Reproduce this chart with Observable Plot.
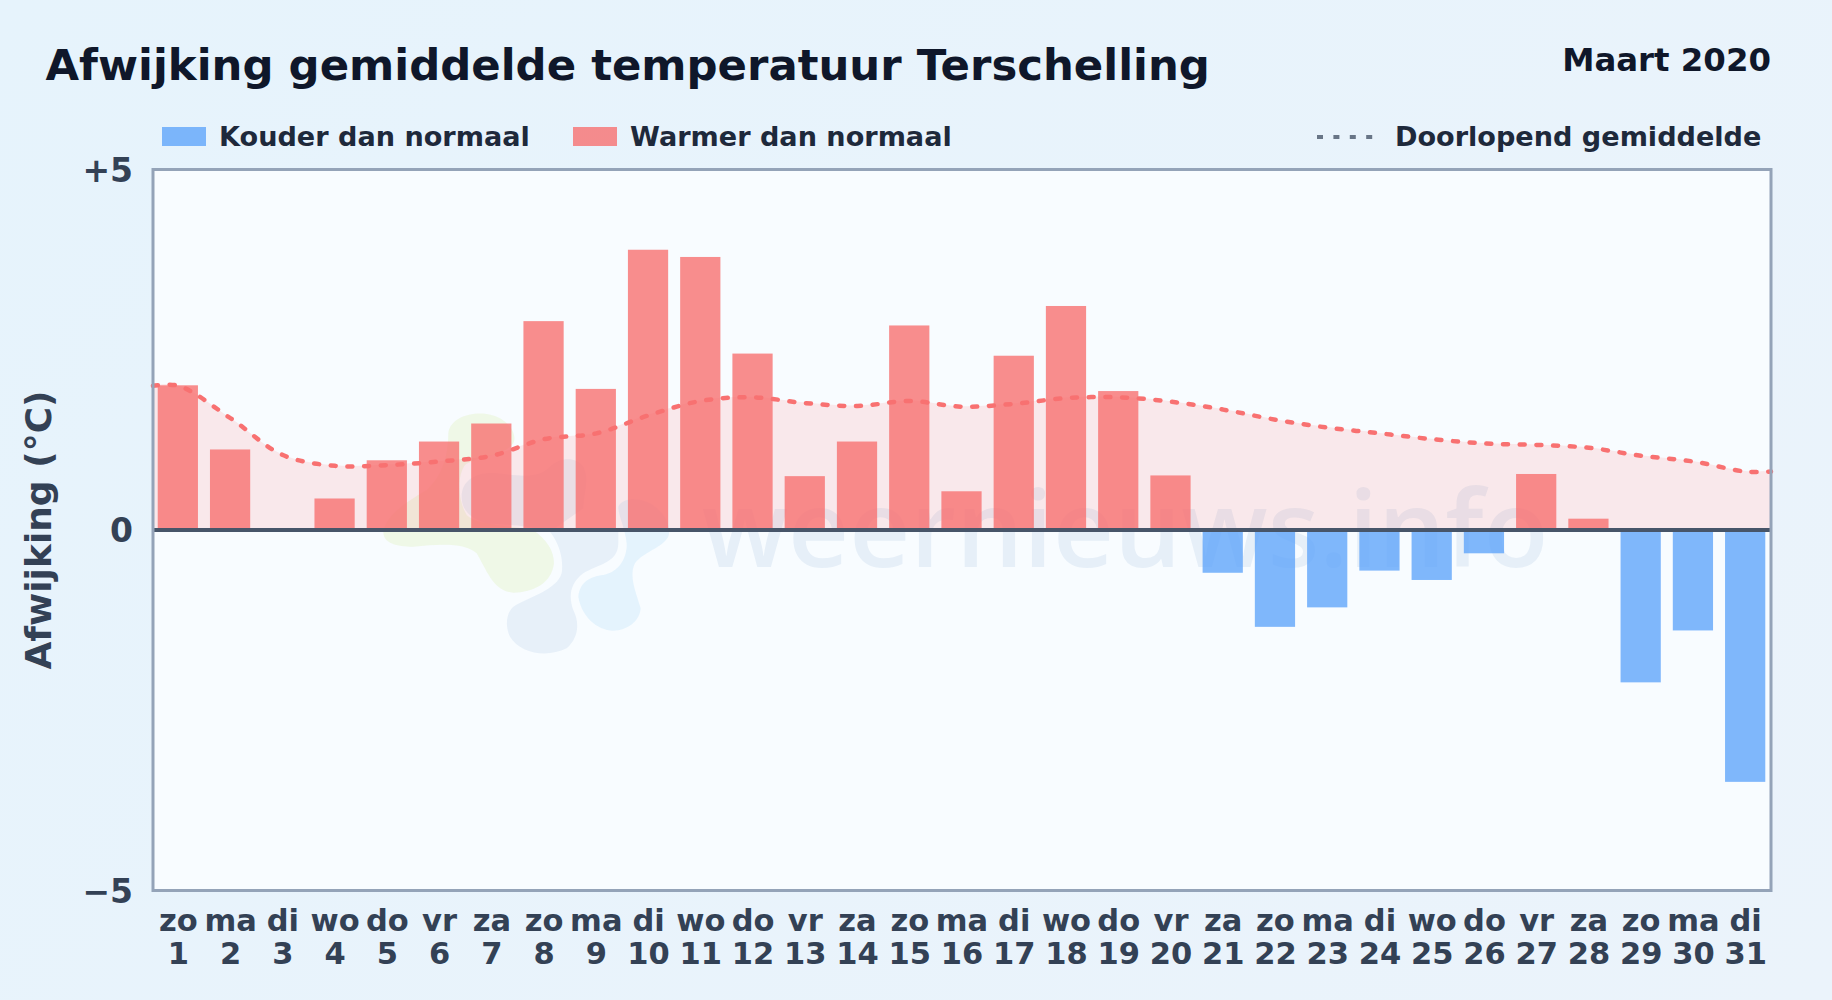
<!DOCTYPE html>
<html><head><meta charset="utf-8">
<script src="https://cdn.jsdelivr.net/npm/d3@7"></script>
<script src="https://cdn.jsdelivr.net/npm/@observablehq/plot@0.6"></script>
<style>
html,body{margin:0;padding:0;width:1832px;height:1000px;overflow:hidden;background:linear-gradient(135deg,#e6f3fc,#ebf3fb);font-family:"DejaVu Sans";font-weight:700}
#header{position:relative;height:150px;width:1832px}
#header>*{position:absolute;white-space:nowrap;line-height:1}
#title{left:45.5px;top:44px;font-size:43.4px;color:#0f172a}
#period{right:61px;top:43.5px;font-size:32.4px;color:#0f172a}
.lg{top:123px;font-size:27.1px;color:#1e293b}
.sw{top:127px;width:44px;height:19px}
#chart svg{display:block}
</style></head><body>
<div id="header">
<div id="title">Afwijking gemiddelde temperatuur Terschelling</div>
<div id="period">Maart 2020</div>
<div class="sw" style="left:162px;background:#60a5fa;opacity:.8"></div>
<div class="lg" style="left:219px">Kouder dan normaal</div>
<div class="sw" style="left:573px;background:#f87171;opacity:.8"></div>
<div class="lg" style="left:630px">Warmer dan normaal</div>
<svg style="left:1316px;top:130px" width="60" height="14"><line x1="1" x2="58" y1="7" y2="7" stroke="#475569" stroke-opacity=".8" stroke-width="4" stroke-dasharray="6 10.4"/></svg>
<div class="lg" style="left:1395px">Doorlopend gemiddelde</div>
</div>
<div id="chart"></div>
<script>
const days = d3.range(1, 32);
const weekdays = ["zo","ma","di","wo","do","vr","za","zo","ma","di","wo","do","vr","za","zo","ma","di","wo","do","vr","za","zo","ma","di","wo","do","vr","za","zo","ma","di"];
const deviation = [2.0,1.11,0,0.43,0.96,1.22,1.47,2.89,1.95,3.88,3.78,2.44,0.74,1.22,2.83,0.53,2.41,3.10,1.92,0.75,-0.60,-1.35,-1.08,-0.57,-0.70,-0.33,0.77,0.15,-2.12,-1.40,-3.50];
const runningDays = [0.515,...days,31.485];
const runningMean = [2.0,2.0,1.55,1.04,0.89,0.90,0.95,1.03,1.26,1.34,1.59,1.79,1.84,1.76,1.72,1.79,1.71,1.75,1.83,1.84,1.78,1.67,1.53,1.42,1.34,1.26,1.20,1.18,1.14,1.03,0.95,0.81,0.81];
const yTicks = [-5,0,5];
const yTickLabels = ["−5","0","+5"];
const bars = days.map((d,i)=>({day:d,v:deviation[i]}));
const mean = runningDays.map((d,i)=>({day:d,v:runningMean[i]}));
const halfBar = 0.385;

const logoPaths = [
 ["#dcedb0",.3,"M235,100 C240,55 300,35 350,42 C410,50 445,100 430,130 C400,170 320,170 285,195 C262,225 262,300 290,345 C320,375 400,375 490,390 C530,420 552,450 552,490 C545,550 490,578 430,578 C370,575 350,510 320,460 C290,430 220,430 130,440 C80,440 40,430 40,395 C50,340 120,300 170,270 C215,230 235,170 235,100Z"],
 ["#2068b0",.08,"M275,290 C275,240 320,215 380,220 C440,225 500,240 540,200 C570,170 620,170 640,200 C660,240 640,280 640,325 L540,395 C575,440 580,490 575,520 C560,570 480,590 430,620 C408,640 405,680 420,710 C450,760 530,775 590,745 C625,715 630,670 610,630 C595,590 600,550 640,520 C680,495 745,490 745,430 C745,400 745,370 745,385 L540,395 C470,375 420,375 350,370 C300,355 275,330 275,290Z"],
 ["#38a8f0",.1,"M625,590 C630,545 660,530 700,525 C750,515 772,470 770,430 C765,380 745,350 745,320 C755,295 800,290 840,310 C885,335 905,380 895,410 C875,445 820,455 795,490 C775,530 800,580 812,625 C810,665 770,692 730,692 C680,690 635,650 625,590Z"]
];
const logo = () => {
  const g = d3.create("svg:g").attr("transform","translate(370,250) scale(0.3333)");
  for (const [fill,op,d] of logoPaths) g.append("path").attr("fill",fill).attr("fill-opacity",op).attr("d",d);
  return g.node();
};

const plot = Plot.plot({
  width:1832, height:850,
  marginLeft:152.5, marginRight:61.5, marginTop:19, marginBottom:110,
  style:{background:"transparent",fontFamily:"DejaVu Sans",overflow:"visible"},
  x:{domain:[0.515,31.485],axis:null},
  y:{domain:[-5,5],label:null,axis:null},
  marks:[
    Plot.frame({fill:"#f8fcff",stroke:"none"}),
    logo,
    Plot.text(["weernieuws.info"],{x:[19.12],y:[-0.04],text:d=>d,fontFamily:"Open Sans",fontWeight:600,fontSize:106,fill:"#1e5aa0",fillOpacity:.08}),
    Plot.areaY(mean,{x:"day",y:"v",y1:0,y2:"v",curve:"catmull-rom",fill:"#ff7070",fillOpacity:.14}),
    Plot.rect(bars,{x1:d=>d.day-halfBar,x2:d=>d.day+halfBar,y1:0,y2:"v",fill:d=>d.v<0?"#60a5fa":"#f87171",fillOpacity:.8}),
    Plot.lineY(mean,{x:"day",y:"v",curve:"catmull-rom",stroke:"#f87171",strokeWidth:4.5,strokeDasharray:"5 11.7",strokeLinecap:"round"}),
    Plot.ruleY([0],{stroke:"#475569",strokeWidth:4}),
    Plot.frame({stroke:"#94a3b8",strokeWidth:3,fill:"none"}),
    Plot.axisY(yTicks,{anchor:"left",tickSize:0,tickPadding:20,dy:1.5,tickFormat:(d,i)=>yTickLabels[yTicks.indexOf(d)],fontSize:33,fontWeight:700,fill:"#334155",label:null}),
    Plot.text(["Afwijking (°C)"],{frameAnchor:"left",dx:-114,rotate:-90,y:[0],text:d=>d,textAnchor:"middle",fontSize:36,fontWeight:700,fill:"#334155"}),
    Plot.axisX(days,{anchor:"bottom",tickSize:0,tickPadding:16,tickFormat:d=>weekdays[d-1]+"\n"+d,fontSize:30.5,fontWeight:700,fill:"#334155",lineHeight:1.11,label:null})
  ]
});
document.getElementById("chart").append(plot);
</script>
</body></html>
